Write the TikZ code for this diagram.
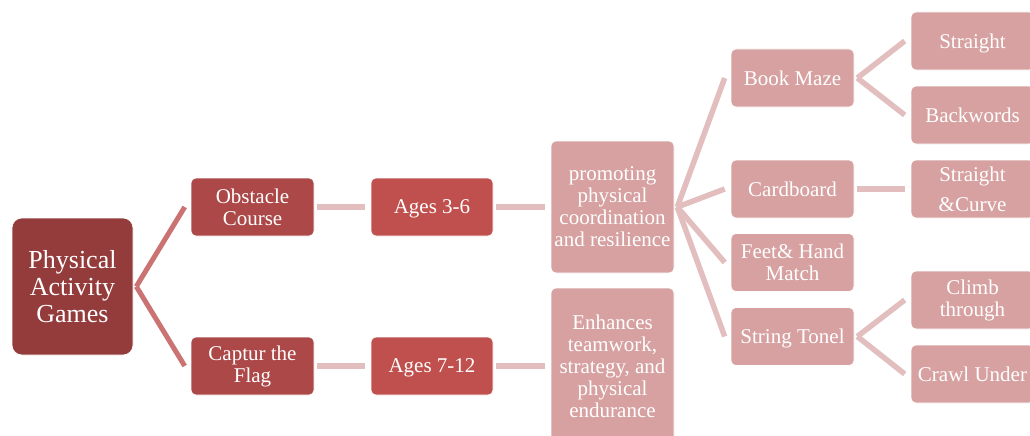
\documentclass[tikz,border=0pt]{standalone}
\usepackage{fontspec}
\setmainfont{Liberation Serif}
\definecolor{rootred}{HTML}{943C3C}
\definecolor{lvlone}{HTML}{AC4848}
\definecolor{lvltwo}{HTML}{C0504D}
\definecolor{lvlpink}{HTML}{D7A1A1}
\definecolor{linkdark}{HTML}{CB7372}
\definecolor{linklight}{HTML}{E3BEBE}
\begin{document}
\begin{tikzpicture}[x=1pt,y=-1pt,
  box/.style={rectangle,rounded corners=5pt,draw=white,line width=0.6pt,
    text=white,align=center,inner sep=0pt,
    font=\fontsize{21}{22}\selectfont},
  w/.style={minimum width=123pt},
  sh/.style={minimum height=58pt},
  flat/.style={text depth=0pt},
  rootbox/.style={box,fill=rootred,rounded corners=10pt,minimum width=121pt,
    minimum height=137pt,font=\fontsize{26}{27}\selectfont},
  onebox/.style={box,w,sh,fill=lvlone},
  twobox/.style={box,w,sh,fill=lvltwo,flat},
  pinkbox/.style={box,w,fill=lvlpink},
  darklink/.style={draw=linkdark,line width=5pt},
  lightlink/.style={draw=linklight,line width=5.5pt}]
\useasboundingbox (0,0) rectangle (1030,436);
\clip (0,0) rectangle (1030,436);

% level 0
\node[rootbox] (root) at (72.5,286.5) {Physical\\Activity\\Games};
% level 1
\node[onebox] (obst) at (252.5,207) {Obstacle\\Course};
\node[onebox] (flag) at (252.5,366) {Captur the\\Flag};
% level 2
\node[twobox,minimum width=122pt] (agea) at (432,207) {Ages 3-6};
\node[twobox,minimum width=122pt] (ageb) at (432,366) {Ages 7-12};
% level 3
\node[pinkbox,minimum height=132pt] (prom) at (612.5,207)
  {promoting\\physical\\coordination\\and resilience};
\node[pinkbox,minimum height=156pt] (enh) at (612.5,366)
  {Enhances\\teamwork,\\strategy, and\\physical\\endurance};
% level 4
\node[pinkbox,sh,flat] (book) at (792.5,78) {Book Maze};
\node[pinkbox,sh,flat] (card) at (792.5,189) {Cardboard};
\node[pinkbox,sh] (feet) at (792.5,262.5) {Feet\& Hand\\Match};
\node[pinkbox,sh,flat] (strg) at (792.5,336.5) {String Tonel};
% level 5
\node[pinkbox,sh,flat] (strt) at (972.5,41) {Straight};
\node[pinkbox,sh,flat] (back) at (972.5,115) {Backwords};
\node[pinkbox,sh] (curv) at (972.5,189) {Straight\\[8pt]\&Curve};
\node[pinkbox,sh] (clmb) at (972.5,300) {Climb\\through};
\node[pinkbox,sh,flat] (crwl) at (972.5,374) {Crawl Under};

% connectors
\foreach \p/\c in {root/obst,root/flag}
  \draw[darklink] ([xshift=3pt]\p.east) -- ([xshift=-6pt]\c.west);
\foreach \p/\c in {obst/agea,flag/ageb,agea/prom,ageb/enh,
    prom/book,prom/card,prom/feet,prom/strg,
    book/strt,book/back,card/curv,strg/clmb,strg/crwl}
  \draw[lightlink] ([xshift=3pt]\p.east) -- ([xshift=-6pt]\c.west);
\end{tikzpicture}
\end{document}
